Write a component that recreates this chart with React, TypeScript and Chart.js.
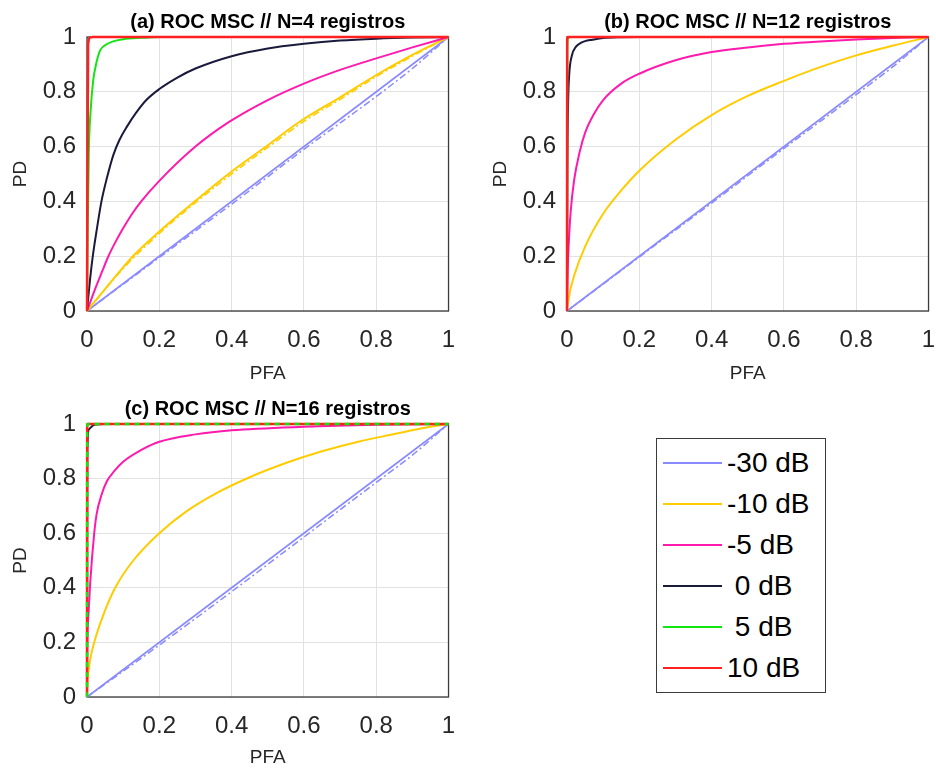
import React, { useEffect, useRef } from 'react';
import { Chart, registerables } from 'chart.js';

Chart.register(...registerables);

// ---------- labels / ticks ----------
const LEGEND_LABELS = ['-30 dB', '-10 dB', '-5 dB', ' 0 dB', ' 5 dB', '10 dB'];
const SNR_COLORS = ['#8a8aff', '#ffcc00', '#ff1aae', '#1a1a3c', '#11e611', '#ff2020'];
const TITLES = [
  '(a) ROC MSC // N=4 registros',
  '(b) ROC MSC // N=12 registros',
  '(c) ROC MSC // N=16 registros',
];
const X_LABEL = 'PFA';
const Y_LABEL = 'PD';

// ---------- (a) N = 4 ----------
const A_M30_PFA = [0, 1];
const A_M30_PD = [0, 1];
const A_M30_SIM_PFA = [0, 0.2, 0.4, 0.6, 0.8, 0.9, 1];
const A_M30_SIM_PD = [0, 0.195, 0.39, 0.59, 0.783, 0.885, 1];
const A_M10_PFA = [0, 0.05, 0.127, 0.2, 0.3, 0.393, 0.5, 0.585, 0.7, 0.805, 0.9, 1];
const A_M10_PD = [0, 0.08, 0.2, 0.29, 0.402, 0.502, 0.605, 0.688, 0.78, 0.865, 0.935, 1];
const A_M10_SIM_PFA = [0, 0.1, 0.2, 0.3, 0.4, 0.5, 0.6, 0.7, 0.8, 0.9, 1];
const A_M10_SIM_PD = [0, 0.155, 0.283, 0.395, 0.5, 0.597, 0.692, 0.772, 0.855, 0.93, 1];
const A_M5_PFA = [0, 0.02, 0.043, 0.0585, 0.08, 0.1, 0.125, 0.15, 0.2, 0.3, 0.393, 0.5, 0.6, 0.7, 0.8, 0.9, 1];
const A_M5_PD = [0, 0.072, 0.148, 0.198, 0.255, 0.302, 0.355, 0.4, 0.475, 0.6, 0.69, 0.77, 0.83, 0.88, 0.922, 0.962, 1];
const A_0_PFA = [0, 0.008, 0.016, 0.028, 0.04, 0.055, 0.073, 0.09, 0.11, 0.135, 0.164, 0.2, 0.25, 0.3, 0.4, 0.5, 0.6, 0.7, 0.8, 0.9, 1];
const A_0_PD = [0, 0.11, 0.2, 0.305, 0.4, 0.485, 0.57, 0.625, 0.672, 0.722, 0.77, 0.81, 0.852, 0.885, 0.93, 0.958, 0.975, 0.987, 0.994, 0.998, 1];
const A_5_PFA = [0, 0.002, 0.005, 0.01, 0.017, 0.025, 0.036, 0.05, 0.07, 0.1, 0.15, 0.2, 1];
const A_5_PD = [0, 0.3, 0.58, 0.73, 0.84, 0.9, 0.95, 0.97, 0.983, 0.992, 0.997, 1, 1];
const A_10_PFA = [0, 0.003, 0.008, 0.015, 1];
const A_10_PD = [0, 0.97, 0.997, 1, 1];

// ---------- (b) N = 12 ----------
const B_M30_PFA = [0, 1];
const B_M30_PD = [0, 1];
const B_M30_SIM_PFA = [0, 0.2, 0.4, 0.6, 0.8, 0.9, 1];
const B_M30_SIM_PD = [0, 0.197, 0.394, 0.593, 0.79, 0.89, 1];
const B_M10_PFA = [0, 0.005, 0.02, 0.05, 0.1, 0.15, 0.2, 0.3, 0.4, 0.5, 0.6, 0.7, 0.8, 0.9, 1];
const B_M10_PD = [0, 0.05, 0.13, 0.235, 0.355, 0.44, 0.512, 0.625, 0.715, 0.785, 0.84, 0.89, 0.933, 0.968, 1];
const B_M5_PFA = [0, 0.002, 0.005, 0.01, 0.02, 0.035, 0.05, 0.075, 0.1, 0.15, 0.2, 0.3, 0.4, 0.5, 0.6, 0.7, 0.8, 0.9, 1];
const B_M5_PD = [0, 0.15, 0.25, 0.36, 0.48, 0.58, 0.65, 0.72, 0.77, 0.83, 0.866, 0.915, 0.945, 0.962, 0.975, 0.984, 0.991, 0.996, 1];
const B_0_PFA = [0, 0.001, 0.003, 0.006, 0.013, 0.025, 0.036, 0.05, 0.07, 0.1, 0.15, 0.2, 1];
const B_0_PD = [0, 0.5, 0.75, 0.86, 0.93, 0.965, 0.977, 0.985, 0.99, 0.996, 0.999, 1, 1];
const B_5_PFA = [0, 0.001, 0.003, 0.008, 1];
const B_5_PD = [0, 0.96, 0.995, 1, 1];
const B_10_PFA = [0, 0.0005, 0.002, 0.005, 1];
const B_10_PD = [0, 0.99, 1, 1, 1];

// ---------- (c) N = 16 ----------
const C_M30_PFA = [0, 1];
const C_M30_PD = [0, 1];
const C_M30_SIM_PFA = [0, 0.2, 0.4, 0.6, 0.8, 0.9, 1];
const C_M30_SIM_PD = [0, 0.19, 0.386, 0.586, 0.786, 0.886, 1];
const C_M10_PFA = [0, 0.002, 0.008, 0.02, 0.045, 0.078, 0.128, 0.2, 0.275, 0.357, 0.45, 0.55, 0.65, 0.75, 0.85, 0.93, 1];
const C_M10_PD = [0, 0.06, 0.13, 0.2, 0.3, 0.4, 0.5, 0.6, 0.68, 0.746, 0.805, 0.857, 0.9, 0.935, 0.963, 0.985, 1];
const C_M5_PFA = [0, 0.001, 0.004, 0.009, 0.02, 0.0266, 0.04, 0.055, 0.077, 0.1, 0.15, 0.2, 0.3, 0.4, 0.6, 0.8, 1];
const C_M5_PD = [0, 0.2, 0.3, 0.42, 0.6, 0.67, 0.74, 0.79, 0.83, 0.862, 0.905, 0.935, 0.962, 0.977, 0.99, 0.997, 1];
const C_0_PFA = [0, 0.001, 0.005, 0.02, 0.05, 1];
const C_0_PD = [0, 0.9, 0.98, 0.997, 1, 1];
const C_5_PFA = [0, 0.0005, 0.002, 0.005, 1];
const C_5_PD = [0, 0.99, 1, 1, 1];
const C_10_PFA = [0, 0.0005, 0.002, 0.005, 1];
const C_10_PD = [0, 0.99, 1, 1, 1];

// ---------- helpers ----------
const FONT = "'Liberation Sans', Arial, Helvetica, sans-serif";
const DASH_DOT = [7, 3, 2, 3];

function pts(xs: number[], ys: number[]) {
  return xs.map((x, i) => ({ x, y: ys[i] }));
}

function ds(xs: number[], ys: number[], color: string, order: number, width = 2, dash: number[] = []) {
  return {
    data: pts(xs, ys),
    borderColor: color,
    backgroundColor: color,
    borderWidth: width,
    borderDash: dash,
    pointRadius: 0,
    fill: false,
    cubicInterpolationMode: 'monotone' as const,
    order,
    clip: 4,
  };
}

const framePlugin = {
  id: 'frame',
  beforeDatasetsDraw(chart: any) {
    const { ctx, chartArea } = chart;
    const { left, top, right, bottom } = chartArea;
    ctx.save();
    ctx.strokeStyle = '#3a3a3a';
    ctx.lineWidth = 1.3;
    ctx.strokeRect(left, top, right - left, bottom - top);
    ctx.restore();
  },
};

type PanelCfg = {
  left: number;
  top: number;
  title: string;
  xAxisH: number;
  xTitlePad: number;
  datasets: any[];
};

const PANELS: PanelCfg[] = [
  {
    left: 0,
    top: 0,
    title: TITLES[0],
    xAxisH: 74,
    xTitlePad: 0,
    datasets: [
      ds(A_10_PFA, A_10_PD, SNR_COLORS[5], 0, 2.5),
      ds(A_5_PFA, A_5_PD, SNR_COLORS[4], 1),
      ds(A_0_PFA, A_0_PD, SNR_COLORS[3], 2),
      ds(A_M5_PFA, A_M5_PD, SNR_COLORS[2], 3),
      ds(A_M10_SIM_PFA, A_M10_SIM_PD, SNR_COLORS[1], 4, 1.5, DASH_DOT),
      ds(A_M10_PFA, A_M10_PD, SNR_COLORS[1], 5),
      ds(A_M30_SIM_PFA, A_M30_SIM_PD, SNR_COLORS[0], 6, 1.5, DASH_DOT),
      ds(A_M30_PFA, A_M30_PD, SNR_COLORS[0], 7, 1.6),
    ],
  },
  {
    left: 480,
    top: 0,
    title: TITLES[1],
    xAxisH: 74,
    xTitlePad: 0,
    datasets: [
      ds(B_10_PFA, B_10_PD, SNR_COLORS[5], 0, 2.5),
      ds(B_5_PFA, B_5_PD, SNR_COLORS[4], 1),
      ds(B_0_PFA, B_0_PD, SNR_COLORS[3], 2),
      ds(B_M5_PFA, B_M5_PD, SNR_COLORS[2], 3),
      ds(B_M10_PFA, B_M10_PD, SNR_COLORS[1], 4),
      ds(B_M30_SIM_PFA, B_M30_SIM_PD, SNR_COLORS[0], 5, 1.5, DASH_DOT),
      ds(B_M30_PFA, B_M30_PD, SNR_COLORS[0], 6, 1.6),
    ],
  },
  {
    left: 0,
    top: 387,
    title: TITLES[2],
    xAxisH: 75,
    xTitlePad: 3,
    datasets: [
      ds(C_5_PFA, C_5_PD, SNR_COLORS[4], -1, 2.5, [5, 5]),
      ds(C_10_PFA, C_10_PD, SNR_COLORS[5], 0, 2.5),
      ds(C_0_PFA, C_0_PD, SNR_COLORS[3], 2),
      ds(C_M5_PFA, C_M5_PD, SNR_COLORS[2], 3),
      ds(C_M10_PFA, C_M10_PD, SNR_COLORS[1], 4),
      ds(C_M30_SIM_PFA, C_M30_SIM_PD, SNR_COLORS[0], 5, 1.5, DASH_DOT),
      ds(C_M30_PFA, C_M30_PD, SNR_COLORS[0], 6, 1.6),
    ],
  },
];

const CANVAS_W = 470;
const CANVAS_H = 385;

function Panel({ cfg }: { cfg: PanelCfg }) {
  const ref = useRef<HTMLCanvasElement | null>(null);
  useEffect(() => {
    if (!ref.current) return;
    const tickFont = { family: FONT, size: 24 };
    const labelFont = { family: FONT, size: 19 };
    const fmt = (v: any) => String(Math.round(Number(v) * 10) / 10);
    const chart = new Chart(ref.current, {
      type: 'line',
      data: { datasets: cfg.datasets },
      options: {
        animation: false,
        responsive: false,
        devicePixelRatio: 1,
        layout: { padding: { left: 0, right: 19, top: 0, bottom: 0 } },
        plugins: {
          legend: { display: false },
          tooltip: { enabled: false },
          title: {
            display: true,
            text: cfg.title,
            fullSize: false,
            color: '#000',
            font: { family: FONT, size: 20, weight: 'bold' },
            padding: { top: 10.5, bottom: 2.5 },
          },
        },
        scales: {
          x: {
            type: 'linear',
            min: 0,
            max: 1,
            ticks: { stepSize: 0.2, padding: 14.8, font: tickFont, color: '#262626', callback: fmt, maxRotation: 0 },
            grid: { color: '#e2e2e2', drawTicks: false, lineWidth: 1 },
            border: { display: false },
            title: { display: true, text: X_LABEL, font: labelFont, color: '#262626', padding: { top: 0, bottom: cfg.xTitlePad } },
            afterFit: (s: any) => { s.height = cfg.xAxisH; },
          },
          y: {
            type: 'linear',
            min: 0,
            max: 1,
            ticks: { stepSize: 0.2, padding: 11, font: tickFont, color: '#262626', callback: fmt },
            grid: { color: '#e2e2e2', drawTicks: false, lineWidth: 1 },
            border: { display: false },
            title: { display: true, text: Y_LABEL, font: labelFont, color: '#262626', padding: { top: 9.6, bottom: 0 } },
            afterFit: (s: any) => { s.width = 87; },
          },
        },
      } as any,
      plugins: [framePlugin],
    });
    return () => chart.destroy();
  }, [cfg]);
  return (
    <canvas
      ref={ref}
      width={CANVAS_W}
      height={CANVAS_H}
      style={{ position: 'absolute', left: cfg.left, top: cfg.top, width: CANVAS_W, height: CANVAS_H }}
    />
  );
}

function Legend() {
  return (
    <div
      style={{
        position: 'absolute',
        left: 656,
        top: 438,
        width: 168,
        height: 250,
        border: '1px solid #3a3a3a',
        background: '#fff',
        fontFamily: FONT,
        fontSize: 28,
        color: '#000',
        paddingTop: 3,
        boxSizing: 'content-box',
      }}
    >
      {LEGEND_LABELS.map((lab, i) => (
        <div key={lab} style={{ display: 'flex', alignItems: 'center', height: 41.1 }}>
          <div style={{ marginLeft: 6, width: 59, height: 2, background: SNR_COLORS[i] }} />
          <span style={{ marginLeft: 5, whiteSpace: 'pre', lineHeight: 1 }}>{lab}</span>
        </div>
      ))}
    </div>
  );
}

export default function App() {
  return (
    <div
      style={{
        position: 'absolute',
        left: 0,
        top: 0,
        width: 936,
        height: 769,
        overflow: 'hidden',
        background: '#fff',
      }}
    >
      {PANELS.map((p, i) => (
        <Panel key={i} cfg={p} />
      ))}
      <Legend />
    </div>
  );
}
